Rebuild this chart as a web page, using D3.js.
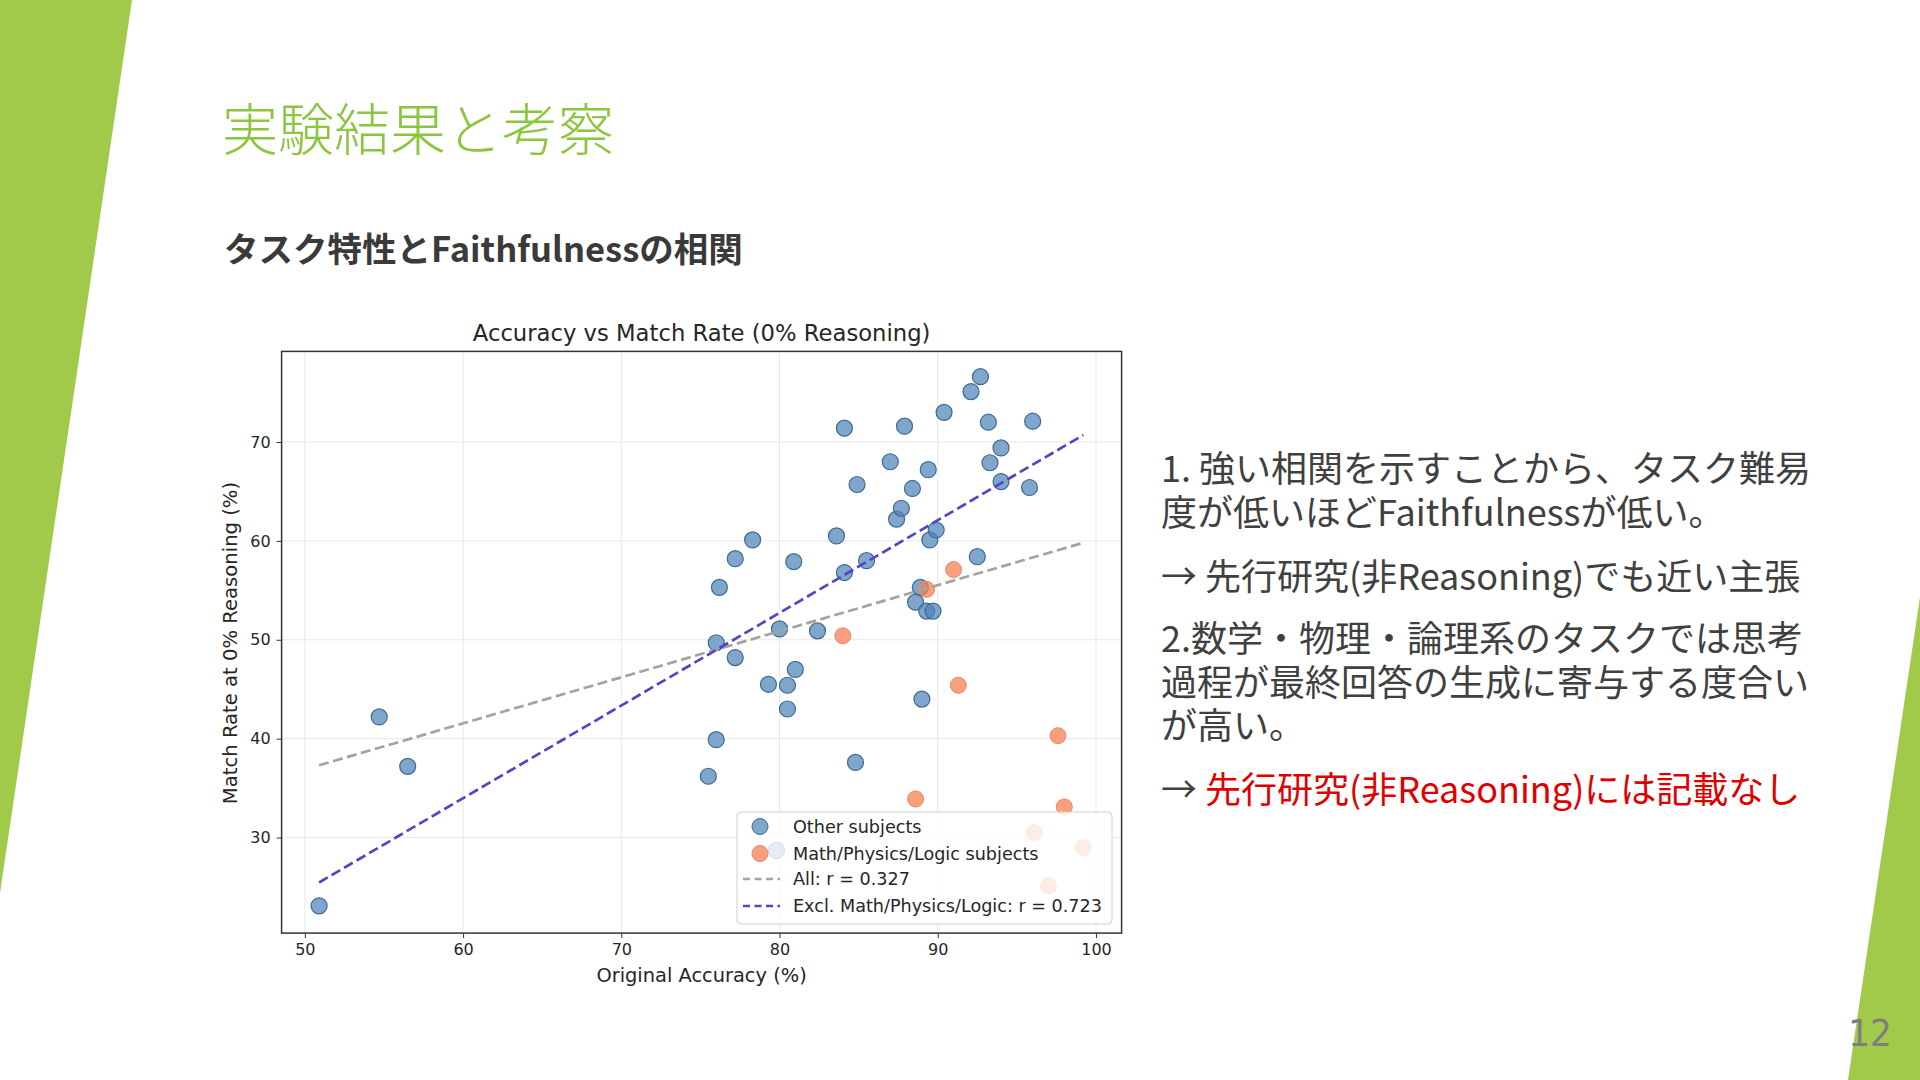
<!DOCTYPE html>
<html>
<head>
<meta charset="utf-8">
<script src="https://cdn.jsdelivr.net/npm/d3@7"></script>
<style>
  html, body { margin: 0; padding: 0; background: #fff; }
  svg { display: block; }
</style>
</head>
<body>
<svg id="slide" width="1920" height="1080"></svg>
<script>
// Data
var otherX = [50.9, 54.7, 56.5, 75.5, 76.0, 76.0, 76.2, 77.2, 77.2, 78.3, 79.3, 80.0, 79.8, 80.5, 80.5, 81.0, 80.9, 82.4, 83.6, 84.1,
              84.1, 84.8, 84.9, 85.5, 87.0, 87.4, 87.7, 87.9, 88.4, 88.6, 88.9, 89.0, 89.4, 89.3, 89.7, 89.5, 89.9, 90.4, 92.1, 92.5,
              92.7, 93.2, 93.3, 94.0, 94.0, 95.8, 96.0];
var otherY = [23.1, 42.2, 37.2, 36.2, 39.9, 49.7, 55.3, 48.2, 58.2, 60.1, 45.5, 51.1, 28.7, 45.4, 43.0, 47.0, 57.9, 50.9, 60.5, 71.4,
              56.8, 37.6, 65.7, 58.0, 68.0, 62.2, 63.3, 71.6, 65.3, 53.8, 55.3, 44.0, 67.2, 52.9, 52.9, 60.1, 61.1, 73.0, 75.1, 58.4,
              76.6, 72.0, 67.9, 69.4, 66.0, 65.4, 72.1];
var mathX = [84.0, 89.3, 91.0, 91.3, 88.6, 97.6, 98.0, 96.1, 99.2, 97.0];
var mathY = [50.4, 55.1, 57.1, 45.4, 33.9, 40.3, 33.1, 30.5, 29.0, 25.1];
var xTicks = [50, 60, 70, 80, 90, 100];
var yTicks = [30, 40, 50, 60, 70];
var legendLabels = ["Other subjects", "Math/Physics/Logic subjects", "All: r = 0.327", "Excl. Math/Physics/Logic: r = 0.723"];

var bullets = [
  [{t: "1. 強い相関を示すことから、タスク難易"}],
  [{t: "度が低いほどFaithfulnessが低い。"}],
  [{t: "→ 先行研究(非Reasoning)でも近い主張"}],
  [{t: "2.数学・物理・論理系のタスクでは思考"}],
  [{t: "過程が最終回答の生成に寄与する度合い"}],
  [{t: "が高い。"}],
  [{t: "→ "}, {t: "先行研究(非Reasoning)には記載なし", red: true}]
];

var svg = d3.select("#slide");
var cjk = "'Noto Sans CJK JP', 'Noto Sans', sans-serif";
var mpl = "'DejaVu Sans', sans-serif";

// slide decoration
svg.append("polygon").attr("points", "0,0 132,0 0,893").attr("fill", "#a1c94a");
svg.append("polygon").attr("points", "1920,597 1920,1080 1848,1080").attr("fill", "#a1c94a");
svg.append("text").attr("x", 1870).attr("y", 1046).attr("text-anchor", "middle")
  .style("font-family", "'Liberation Sans Narrow', 'DejaVu Sans Condensed', sans-serif")
  .style("font-size", "38px").attr("fill", "#7f7f7f").text("12");

svg.append("text").attr("x", 222).attr("y", 150)
  .style("font-family", cjk).style("font-size", "56px").style("font-weight", 300)
  .attr("fill", "#8cc63f").text("実験結果と考察");

svg.append("text").attr("x", 224).attr("y", 262)
  .style("font-family", cjk).style("font-size", "34.5px").style("font-weight", 700)
  .attr("fill", "#3a3a3a").text("タスク特性とFaithfulnessの相関");

// right hand text
var lineY = [469, 513, 577, 639, 683, 726, 790];
bullets.forEach(function(parts, i) {
  var t = svg.append("text").attr("x", 1161).attr("y", lineY[i]).attr("dy", "0.36em")
    .style("font-family", cjk).style("font-size", "36px").attr("fill", "#404040");
  parts.forEach(function(p) {
    t.append("tspan").attr("fill", p.red ? "#e00000" : "#404040").text(p.t);
  });
});

// chart
var plotLeft = 281.6, plotTop = 351.4, w = 840, h = 581.7;
var x = d3.scaleLinear().domain([48.53, 101.62]).range([0, w]);
var y = d3.scaleLinear().domain([20.34, 79.16]).range([h, 0]);

var g = svg.append("g").attr("transform", "translate(" + plotLeft + "," + plotTop + ")");

g.append("g").selectAll("line.vx").data(xTicks).enter().append("line")
  .attr("x1", function(d) { return x(d); }).attr("x2", function(d) { return x(d); })
  .attr("y1", 0).attr("y2", h).attr("stroke", "#e8e8e8").attr("stroke-width", 1);
g.append("g").selectAll("line.hy").data(yTicks).enter().append("line")
  .attr("y1", function(d) { return y(d); }).attr("y2", function(d) { return y(d); })
  .attr("x1", 0).attr("x2", w).attr("stroke", "#e8e8e8").attr("stroke-width", 1);

var xAxis = g.append("g").attr("transform", "translate(0," + h + ")")
  .call(d3.axisBottom(x).tickValues(xTicks).tickSize(5).tickPadding(6).tickFormat(d3.format("d")));
var yAxis = g.append("g")
  .call(d3.axisLeft(y).tickValues(yTicks).tickSize(5).tickPadding(6).tickFormat(d3.format("d")));
[xAxis, yAxis].forEach(function(a) {
  a.select(".domain").remove();
  a.selectAll("line").attr("stroke", "#333");
  a.selectAll("text").style("font-family", mpl).style("font-size", "16px").attr("fill", "#262626");
});

var other = otherX.map(function(v, i) { return {x: v, y: otherY[i]}; });
var math = mathX.map(function(v, i) { return {x: v, y: mathY[i]}; });
var all = other.concat(math);

g.append("g").selectAll("circle").data(other).enter().append("circle")
  .attr("cx", function(d) { return x(d.x); }).attr("cy", function(d) { return y(d.y); })
  .attr("r", 8).attr("fill", "#4f84b9").attr("fill-opacity", 0.72)
  .attr("stroke", "#3d6a95").attr("stroke-width", 1.2);
g.append("g").selectAll("circle").data(math).enter().append("circle")
  .attr("cx", function(d) { return x(d.x); }).attr("cy", function(d) { return y(d.y); })
  .attr("r", 8).attr("fill", "#f57f52").attr("fill-opacity", 0.75)
  .attr("stroke", "#e88a66").attr("stroke-width", 1);

// least squares fits
function fit(pts) {
  var mx = d3.mean(pts, function(d) { return d.x; }), my = d3.mean(pts, function(d) { return d.y; });
  var sxy = d3.sum(pts, function(d) { return (d.x - mx) * (d.y - my); });
  var sxx = d3.sum(pts, function(d) { return (d.x - mx) * (d.x - mx); });
  var b = sxy / sxx;
  return function(v) { return my + b * (v - mx); };
}
var xr = d3.extent(all, function(d) { return d.x; });
var fAll = fit(all), fOther = fit(other);
var line = d3.line().x(function(d) { return x(d); });

g.append("path").datum(xr).attr("d", line.y(function(d) { return y(fAll(d)); }))
  .attr("fill", "none").attr("stroke", "#a3a3a3").attr("stroke-width", 2.7).attr("stroke-dasharray", "10,4.5");
g.append("path").datum(xr).attr("d", line.y(function(d) { return y(fOther(d)); }))
  .attr("fill", "none").attr("stroke", "#5046c6").attr("stroke-width", 2.7).attr("stroke-dasharray", "10,4.5");

// frame
g.append("rect").attr("width", w).attr("height", h).attr("fill", "none").attr("stroke", "#333").attr("stroke-width", 1.5);

// legend
var lg = svg.append("g").attr("transform", "translate(737,812)");
lg.append("rect").attr("width", 375).attr("height", 112).attr("rx", 4)
  .attr("fill", "#fff").attr("fill-opacity", 0.8).attr("stroke", "#d0d0d0");
var rowY = [14.5, 41.5, 67, 94];
lg.selectAll("text").data(legendLabels).enter().append("text")
  .attr("x", 56).attr("y", function(d, i) { return rowY[i]; }).attr("dy", "0.35em")
  .style("font-family", mpl).style("font-size", "17.6px").attr("fill", "#262626")
  .text(function(d) { return d; });
lg.append("circle").attr("cx", 23).attr("cy", rowY[0]).attr("r", 8).attr("fill", "#4f84b9").attr("fill-opacity", 0.72).attr("stroke", "#3d6a95");
lg.append("circle").attr("cx", 23).attr("cy", rowY[1]).attr("r", 8).attr("fill", "#f57f52").attr("fill-opacity", 0.75).attr("stroke", "#e88a66");
lg.append("line").attr("x1", 6).attr("x2", 43).attr("y1", rowY[2]).attr("y2", rowY[2])
  .attr("stroke", "#a3a3a3").attr("stroke-width", 2.7).attr("stroke-dasharray", "7,4.5");
lg.append("line").attr("x1", 6).attr("x2", 43).attr("y1", rowY[3]).attr("y2", rowY[3])
  .attr("stroke", "#5046c6").attr("stroke-width", 2.7).attr("stroke-dasharray", "7,4.5");

// titles
svg.append("text").attr("x", plotLeft + w / 2).attr("y", 333).attr("dy", "0.35em").attr("text-anchor", "middle")
  .style("font-family", mpl).style("font-size", "22.7px").attr("fill", "#262626")
  .text("Accuracy vs Match Rate (0% Reasoning)");
svg.append("text").attr("x", plotLeft + w / 2).attr("y", 975).attr("dy", "0.35em").attr("text-anchor", "middle")
  .style("font-family", mpl).style("font-size", "19.4px").attr("fill", "#262626")
  .text("Original Accuracy (%)");
svg.append("text").attr("transform", "translate(230,643) rotate(-90)").attr("dy", "0.35em").attr("text-anchor", "middle")
  .style("font-family", mpl).style("font-size", "19.6px").attr("fill", "#262626")
  .text("Match Rate at 0% Reasoning (%)");
</script>
</body>
</html>
